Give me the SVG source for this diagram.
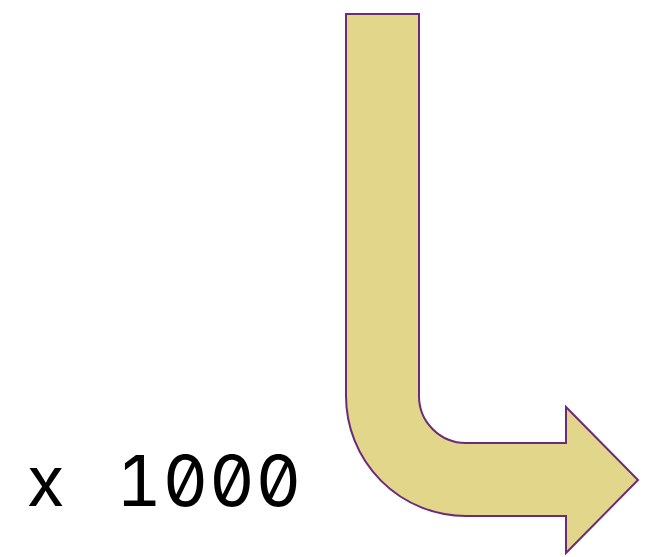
<svg xmlns="http://www.w3.org/2000/svg" width="646" height="557" viewBox="0 0 646 557">
<style>
.arrow{fill:#e1d68a;stroke:#6b2a7a;stroke-width:2;stroke-linejoin:miter}
.lbl{font-family:Inter,"DejaVu Sans Mono",monospace;font-size:70px;fill:#000;text-anchor:middle;font-variant-numeric:slashed-zero tabular-nums}
</style>
<rect width="646" height="557" fill="#fff"/>
<g id="bent-arrow">
<path class="arrow" d="M346,14 H419 V396 A47,47 0 0 0 466,443 H566 V407 L638,480 L566,553 V516 H466 A120,120 0 0 1 346,396 Z"/>
</g>
<g id="label">
<text class="lbl" y="506"><tspan x="45.5">x</tspan><tspan x="139">1</tspan><tspan x="185.5">0</tspan><tspan x="232">0</tspan><tspan x="278.5">0</tspan></text>
</g>
</svg>
